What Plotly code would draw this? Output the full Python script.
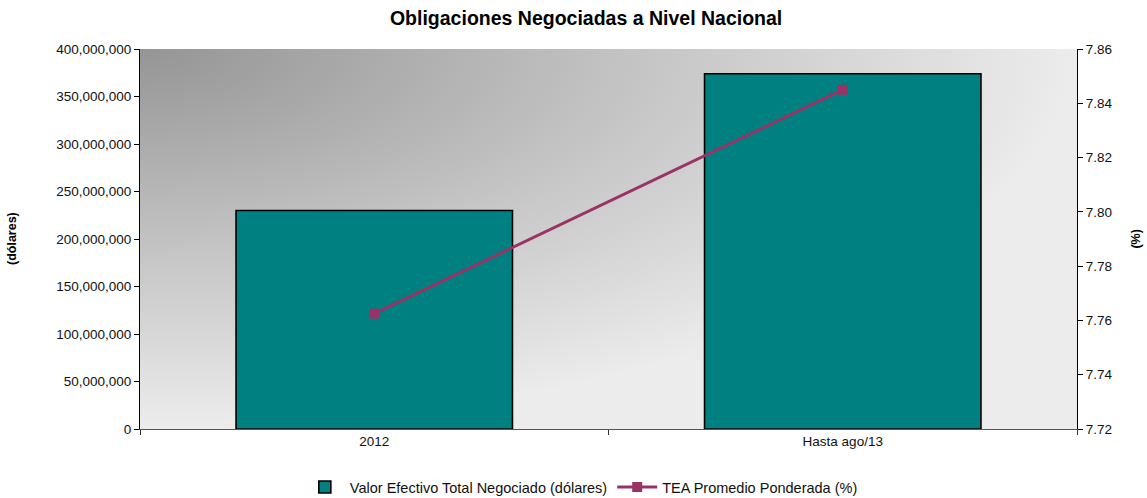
import base64
import plotly.graph_objects as go

categories = ["2012", "Hasta ago/13"]
valor_efectivo = [230_000_000, 374_000_000]
tea_promedio = [7.7625, 7.845]

left_ticks = list(range(0, 400_000_001, 50_000_000))
right_ticks = [7.72, 7.74, 7.76, 7.78, 7.80, 7.82, 7.84, 7.86]

svg = (
    '<svg xmlns="http://www.w3.org/2000/svg" width="1000" height="400" preserveAspectRatio="none" viewBox="0 0 1000 400">'
    '<defs><radialGradient id="g" cx="0" cy="0" r="1" gradientUnits="objectBoundingBox">'
    '<stop offset="0" stop-color="#959595"/>'
    '<stop offset="0.55" stop-color="#c6c6c6"/>'
    '<stop offset="1" stop-color="#ececec"/>'
    '</radialGradient></defs>'
    '<rect x="0" y="0" width="1000" height="400" fill="url(#g)"/></svg>'
)
src = "data:image/svg+xml;base64," + base64.b64encode(svg.encode()).decode()

FONT = "Liberation Sans, Arial, sans-serif"

fig = go.Figure()
fig.add_trace(go.Bar(
    x=categories, y=valor_efectivo,
    name="Valor Efectivo Total Negociado (dólares)",
    marker=dict(color="#008080", line=dict(color="#000000", width=1.6)),
    yaxis="y",
))
fig.add_trace(go.Scatter(
    x=categories, y=tea_promedio,
    name="TEA Promedio Ponderada (%)",
    mode="lines+markers",
    line=dict(color="#993366", width=3),
    marker=dict(symbol="square", size=10, color="#993366"),
    yaxis="y2",
))

fig.update_layout(
    width=1147, height=498,
    margin=dict(l=140, r=70, t=49, b=69, autoexpand=False),
    paper_bgcolor="white",
    plot_bgcolor="rgba(0,0,0,0)",
    font=dict(family=FONT, size=13.5, color="#111111"),
    title=dict(text="<b>Obligaciones Negociadas a Nivel Nacional</b>",
               x=0.511, xanchor="center", y=0.963, yanchor="middle",
               font=dict(size=19.5, family=FONT, color="#000000")),
    bargap=0.41,
    showlegend=True,
    legend=dict(orientation="h", x=0.471, xanchor="center", y=-0.153, yanchor="middle",
                font=dict(size=14.5), bgcolor="rgba(0,0,0,0)", itemwidth=40,
                traceorder="normal"),
    xaxis=dict(type="category", showgrid=False, showline=True, linecolor="#555555",
               linewidth=1, ticks="outside", ticklen=5, tickcolor="#333333",
               tickson="boundaries", zeroline=False, automargin=False),
    yaxis=dict(range=[0, 400_000_000], tickvals=left_ticks, tickformat=",",
               showgrid=False, showline=True, linecolor="#000000", linewidth=1,
               ticks="outside", ticklen=5, tickcolor="#000000", zeroline=False,
               automargin=False),
    yaxis2=dict(range=[7.72, 7.86], tickvals=right_ticks, tickformat=".2f",
                overlaying="y", side="right", showgrid=False, showline=True,
                linecolor="#000000", linewidth=1, ticks="outside", ticklen=5,
                tickcolor="#000000", zeroline=False, automargin=False),
    images=[dict(source=src, xref="paper", yref="paper", x=0, y=1, sizex=1, sizey=1,
                 xanchor="left", yanchor="top", sizing="stretch", layer="below")],
    annotations=[
        dict(text="<b>(dólares)</b>", xref="paper", yref="paper", x=-0.1366, y=0.5,
             textangle=-90, showarrow=False, font=dict(size=12.5, family=FONT, color="#000000"),
             xanchor="center", yanchor="middle"),
        dict(text="<b>(%)</b>", xref="paper", yref="paper", x=1.0625, y=0.5,
             textangle=-90, showarrow=False, font=dict(size=12.5, family=FONT, color="#000000"),
             xanchor="center", yanchor="middle"),
    ],
)

fig.write_html("out.html", config={"displayModeBar": False},
               post_script="document.body.style.margin='0';")
